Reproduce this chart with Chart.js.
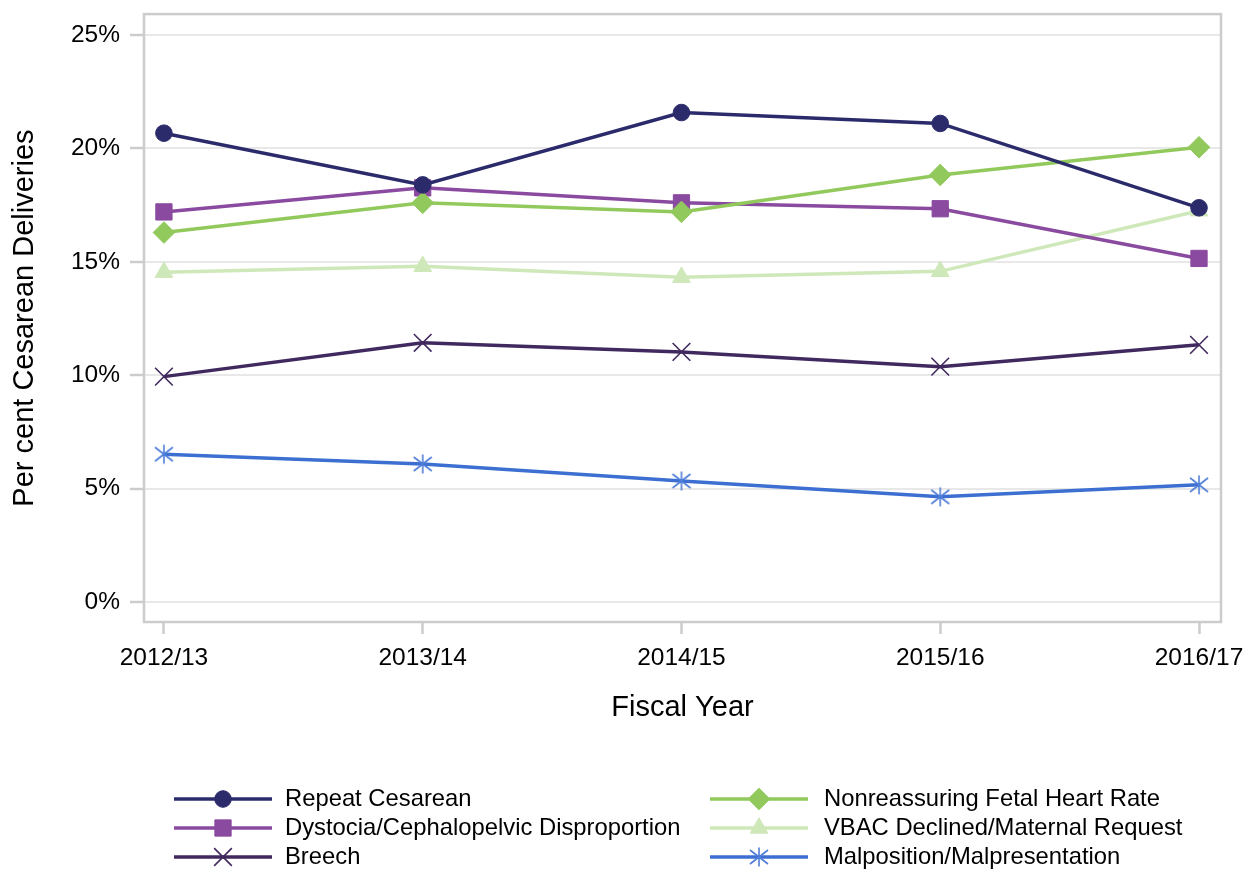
<!DOCTYPE html>
<html>
<head>
<meta charset="utf-8">
<title>Cesarean Deliveries by Indication</title>
<script src="https://cdn.jsdelivr.net/npm/chart.js@4/dist/chart.umd.min.js"></script>
<style>
  html, body { margin: 0; padding: 0; background: #fff; }
  #wrap { width: 1256px; height: 871px; position: relative; }
</style>
</head>
<body>
<div id="wrap"><canvas id="cesareanChart"></canvas></div>
<script>
// fiscal years and per cent of cesarean deliveries
const years = ["2012/13", "2013/14", "2014/15", "2015/16", "2016/17"];
const repeatCesarean = [20.67, 18.39, 21.58, 21.10, 17.38];
const fetalHeartRate = [16.29, 17.60, 17.20, 18.83, 20.05];
const dystocia = [17.20, 18.26, 17.60, 17.34, 15.15];
const vbacDeclined = [14.54, 14.80, 14.32, 14.58, 17.25];
const breech = [9.94, 11.43, 11.03, 10.38, 11.34];
const malposition = [6.52, 6.09, 5.34, 4.64, 5.17];
const yTicks = [0, 5, 10, 15, 20, 25];

const FONT = "'Liberation Sans', Arial, sans-serif";

// asterisk marker (vertical stroke + X)
function makeAsterisk(color) {
  const c = document.createElement("canvas");
  c.width = 22; c.height = 22;
  const g = c.getContext("2d");
  g.strokeStyle = color;
  g.lineWidth = 1.6;
  g.beginPath();
  g.moveTo(11, 1.5); g.lineTo(11, 20.5);
  g.moveTo(2, 4); g.lineTo(20, 18);
  g.moveTo(2, 18); g.lineTo(20, 4);
  g.stroke();
  return c;
}

const series = [
  { label: "Repeat Cesarean", values: repeatCesarean, color: "#2b2b6c", style: "circle", r: 8.3 },
  { label: "Nonreassuring Fetal Heart Rate", values: fetalHeartRate, color: "#92c95d", style: "rectRot", r: 10.8 },
  { label: "Dystocia/Cephalopelvic Disproportion", values: dystocia, color: "#8a4a9f", style: "rect", r: 11.5 },
  { label: "VBAC Declined/Maternal Request", values: vbacDeclined, color: "#cfe8b9", style: "triangle", r: 10.3 },
  { label: "Breech", values: breech, color: "#40295e", style: "crossRot", r: 12.5, thin: true },
  { label: "Malposition/Malpresentation", values: malposition, color: "#3c6fd1", style: makeAsterisk("#4f7ed8"), r: 11, thin: true }
];

const datasets = series.map(s => ({
  label: s.label,
  data: s.values.map((v, i) => ({ x: i, y: v })),
  borderColor: s.color,
  backgroundColor: s.color,
  borderWidth: 3.5,
  pointStyle: s.style,
  pointRadius: s.r,
  pointHoverRadius: s.r,
  pointBorderWidth: s.thin ? 1.6 : 1,
  pointBackgroundColor: s.color,
  pointBorderColor: s.color,
  tension: 0
}));

// plot frame on all four sides
const framePlugin = {
  id: "frame",
  beforeDatasetsDraw(chart) {
    const { ctx, chartArea: a } = chart;
    ctx.save();
    ctx.strokeStyle = "#cccccc";
    ctx.lineWidth = 2.5;
    ctx.strokeRect(a.left, a.top, a.right - a.left, a.bottom - a.top);
    ctx.restore();
  }
};

// two-column legend with line + marker
const legendPlugin = {
  id: "twoColLegend",
  afterDraw(chart) {
    const ctx = chart.ctx;
    const cols = [{ x1: 174, x2: 272, tx: 285 }, { x1: 710, x2: 808, tx: 824 }];
    const rows = [799, 828, 857];
    ctx.save();
    chart.data.datasets.forEach((ds, i) => {
      const c = cols[i % 2];
      const y = rows[Math.floor(i / 2)];
      ctx.strokeStyle = ds.borderColor;
      ctx.lineWidth = 3.5;
      ctx.beginPath();
      ctx.moveTo(c.x1, y);
      ctx.lineTo(c.x2, y);
      ctx.stroke();
      ctx.fillStyle = ds.pointBackgroundColor;
      ctx.strokeStyle = ds.pointBorderColor;
      ctx.lineWidth = ds.pointBorderWidth;
      Chart.helpers.drawPoint(ctx, {
        pointStyle: ds.pointStyle,
        radius: ds.pointRadius,
        rotation: 0,
        borderWidth: ds.pointBorderWidth
      }, (c.x1 + c.x2) / 2, y);
      ctx.fillStyle = "#000";
      ctx.font = "23.8px " + FONT;
      ctx.textBaseline = "middle";
      ctx.textAlign = "left";
      ctx.fillText(ds.label, c.tx, y);
    });
    ctx.restore();
  }
};

new Chart(document.getElementById("cesareanChart"), {
  type: "line",
  data: { datasets },
  plugins: [framePlugin, legendPlugin],
  options: {
    responsive: true,
    maintainAspectRatio: false,
    animation: false,
    layout: { padding: { left: 0, right: 35, top: 6.5, bottom: 0 } },
    plugins: { legend: { display: false }, tooltip: { enabled: false } },
    scales: {
      x: {
        type: "linear",
        min: -0.077,
        max: 4.085,
        afterBuildTicks: scale => { scale.ticks = years.map((y, i) => ({ value: i })); },
        afterFit: scale => {
          scale.height = 249;
          scale.paddingLeft = 0;
          scale.paddingRight = 0;
        },
        border: { display: false },
        grid: { drawOnChartArea: false, drawTicks: true, tickLength: 12, tickColor: "#cccccc", tickWidth: 2.5 },
        ticks: {
          padding: 10,
          color: "#000",
          font: { family: FONT, size: 24.5 },
          maxRotation: 0,
          callback: v => years[v]
        },
        title: {
          display: true,
          text: "Fiscal Year",
          color: "#000",
          font: { family: FONT, size: 29 },
          padding: { top: 0, bottom: 146 }
        }
      },
      y: {
        min: -0.876,
        max: 25.919,
        afterBuildTicks: scale => { scale.ticks = yTicks.map(v => ({ value: v })); },
        afterFit: scale => {
          scale.width = 144;
          scale.paddingTop = 0;
          scale.paddingBottom = 0;
        },
        border: { display: false },
        grid: { color: "#e8e8e8", lineWidth: 2, drawTicks: true, tickLength: 14, tickColor: "#cccccc", tickWidth: 2.5 },
        ticks: {
          padding: 10,
          color: "#000",
          font: { family: FONT, size: 24.5 },
          callback: v => v + "%"
        },
        title: {
          display: true,
          text: "Per cent Cesarean Deliveries",
          color: "#000",
          font: { family: FONT, size: 29 },
          padding: { top: 8, bottom: 0 }
        }
      }
    }
  }
});
</script>
</body>
</html>
